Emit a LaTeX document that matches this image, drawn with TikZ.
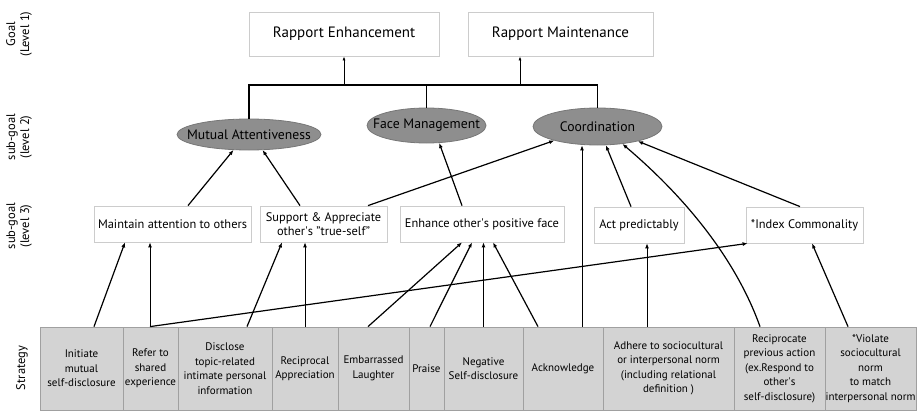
\documentclass[tikz,border=0pt]{standalone}
\usepackage{fontspec}
\setmainfont{PT Sans}
\usetikzlibrary{shapes.geometric,arrows.meta}
\newcommand{\myap}{\textquotesingle}
\definecolor{boxgray}{HTML}{CCCCCC}
\definecolor{ellfill}{HTML}{8E8E8E}
\definecolor{ellline}{HTML}{777777}
\definecolor{cellfill}{HTML}{D3D3D3}
\definecolor{cellline}{HTML}{A0A0A0}
\begin{document}
\begin{tikzpicture}[x=1pt,y=-1pt,
  topbox/.style={draw=boxgray, line width=0.8pt, minimum width=#1, minimum height=44pt, inner sep=0pt, font=\fontsize{15}{18}\selectfont},
  ellnode/.style={ellipse, draw=ellline, fill=ellfill, line width=0.8pt, inner sep=0pt},
  elltext/.style={font=\fontsize{13.7}{15}\selectfont, inner sep=0pt},
  lvbox/.style={draw=boxgray, fill=white, line width=0.8pt, minimum width=#1, minimum height=36pt, inner sep=0pt, align=center, font=\fontsize{12.4}{14}\selectfont},
  cell/.style={draw=cellline, fill=cellfill, line width=0.8pt, minimum width=#1, minimum height=83pt, inner sep=0pt, align=center, font=\fontsize{11}{14.5}\selectfont},
  lab/.style={rotate=90, align=center, inner sep=0pt, font=\fontsize{12.5}{14}\selectfont},
  lnk/.style={line width=1.2pt},
  arr/.style={line width=1.2pt, -{Latex[length=5pt,width=4pt]}},
  varr/.style={line width=0.9pt, -{Latex[length=5pt,width=4pt]}},
  thinarr/.style={line width=0.8pt, -{Latex[length=4pt,width=3pt]}}
]
\useasboundingbox (0,0) rectangle (917,412);

% side labels
\node[lab] (lg1) at (19,34) {Goal\\(Level 1)};
\node[lab] (lg2) at (19,137) {sub-goal\\(level 2)};
\node[lab] (lg3) at (19,226) {sub-goal\\(level 3)};
\node[lab] (lst) at (22,368) {Strategy};

% goals
\node[topbox=190pt] (re) at (344,34) {Rapport Enhancement};
\node[topbox=185pt] (rm) at (560.5,34) {Rapport Maintenance};

% sub-goals level 2
\node[ellnode, minimum width=144pt, minimum height=31pt] (ma) at (249,134.5) {};
\node[elltext] at (ma) {Mutual Attentiveness};
\node[ellnode, minimum width=119pt, minimum height=35pt] (fm) at (426.5,125.5) {};
\node[elltext] at (fm) {Face Management};
\node[ellnode, minimum width=129pt, minimum height=37pt] (co) at (597.5,126.5) {};
\node[elltext] at (co) {Coordination};

% sub-goals level 3
\node[lvbox=157pt] (l1) at (172.5,224) {Maintain attention to others};
\node[lvbox=127pt] (l2) at (323.5,224) {Support \& Appreciate\\other\myap s "true-self"};
\node[lvbox=164pt] (l3) at (482,224) {Enhance other\myap s positive face};
\node[lvbox=90pt] (l4) at (639,225) {Act predictably};
\node[lvbox=117pt] (l5) at (804.5,225) {*Index Commonality};

% strategies
\node[cell=83pt] (s1) at (81.5,368.5) {Initiate\\mutual\\self-disclosure};
\node[cell=55pt] (s2) at (150.5,368.5) {Refer to\\shared\\experience};
\node[cell=94pt] (s3) at (225,368.5) {Disclose\\topic-related\\intimate personal\\information};
\node[cell=66pt] (s4) at (305,368.5) {Reciprocal\\Appreciation};
\node[cell=71pt] (s5) at (373.5,368.5) {Embarrassed\\Laughter};
\node[cell=35pt] (s6) at (426.5,368.5) {Praise};
\node[cell=79pt] (s7) at (483.5,368.5) {Negative\\Self-disclosure};
\node[cell=80pt] (s8) at (563,368.5) {Acknowledge};
\node[cell=131pt] (s9) at (668.5,368.5) {Adhere to sociocultural\\or interpersonal norm\\(including relational\\definition )};
\node[cell=91pt] (s10) at (779.5,368.5) {Reciprocate\\previous action\\(ex.Respond to\\other\myap s\\self-disclosure)};
\node[cell=91pt] (s11) at (870.5,368.5) {*Violate\\sociocultural\\norm\\to match\\interpersonal norm};

% level 2 -> level 1
\coordinate (bar) at (0,85);
\draw[lnk] (ma.north) -- (ma.north |- bar) -- (co.north |- bar) -- (co.north);
\draw[lnk] (fm.north) -- (fm.north |- bar);
\draw[thinarr] (re.south |- bar) -- (re.south);
\draw[thinarr] ([xshift=-40.5pt]rm.south |- bar) -- ([xshift=-40.5pt]rm.south);

% level 3 -> level 2
\draw[arr] ([xshift=15.5pt]l1.north) -- (ma.-135);
\draw[arr] ([xshift=-23.5pt]l2.north) -- (ma.-49);
\draw[arr] ([xshift=44.5pt]l2.north) -- (co.-162);
\draw[arr] ([xshift=-20pt]l3.north) -- (fm.-54);
\draw[arr] ([xshift=-8pt]l4.north) -- (co.-66);
\draw[arr] ([xshift=-4.5pt]l5.north) -- (co.-20);

% strategies -> level 3 / level 2
\draw[arr] ([xshift=12.5pt]s1.north) -- ([xshift=-47.5pt]l1.south);
\draw[varr] ([xshift=-0.5pt]s2.north) -- ([xshift=-0.5pt]s2.north |- l1.south);
\draw[arr] ([xshift=-0.5pt]s2.north) -- ([xshift=2pt]l5.south west);
\draw[arr] ([xshift=22pt]s3.north) -- ([xshift=-41.5pt]l2.south);
\draw[varr] (s4.north) -- (s4.north |- l2.south);
\draw[arr] ([xshift=-5.5pt]s5.north) -- ([xshift=-20pt]l3.south);
\draw[arr] ([xshift=3.5pt]s6.north) -- ([xshift=-10pt]l3.south);
\draw[varr] (s7.north) -- (s7.north |- l3.south);
\draw[arr] ([xshift=-25pt]s8.north) -- ([xshift=11pt]l3.south);
\draw[varr] ([xshift=19pt]s8.north) -- ([xshift=19pt]s8.north |- co.south);
\draw[varr] ([xshift=-21.5pt]s9.north) -- ([xshift=-21.5pt]s9.north |- l4.south);
\draw[arr] ([xshift=-19.5pt]s10.north) .. controls (738,265) and (692,203) .. (co.-35);
\draw[arr] ([xshift=-22.5pt]s11.north) -- ([xshift=7.5pt]l5.south);
\end{tikzpicture}
\end{document}
